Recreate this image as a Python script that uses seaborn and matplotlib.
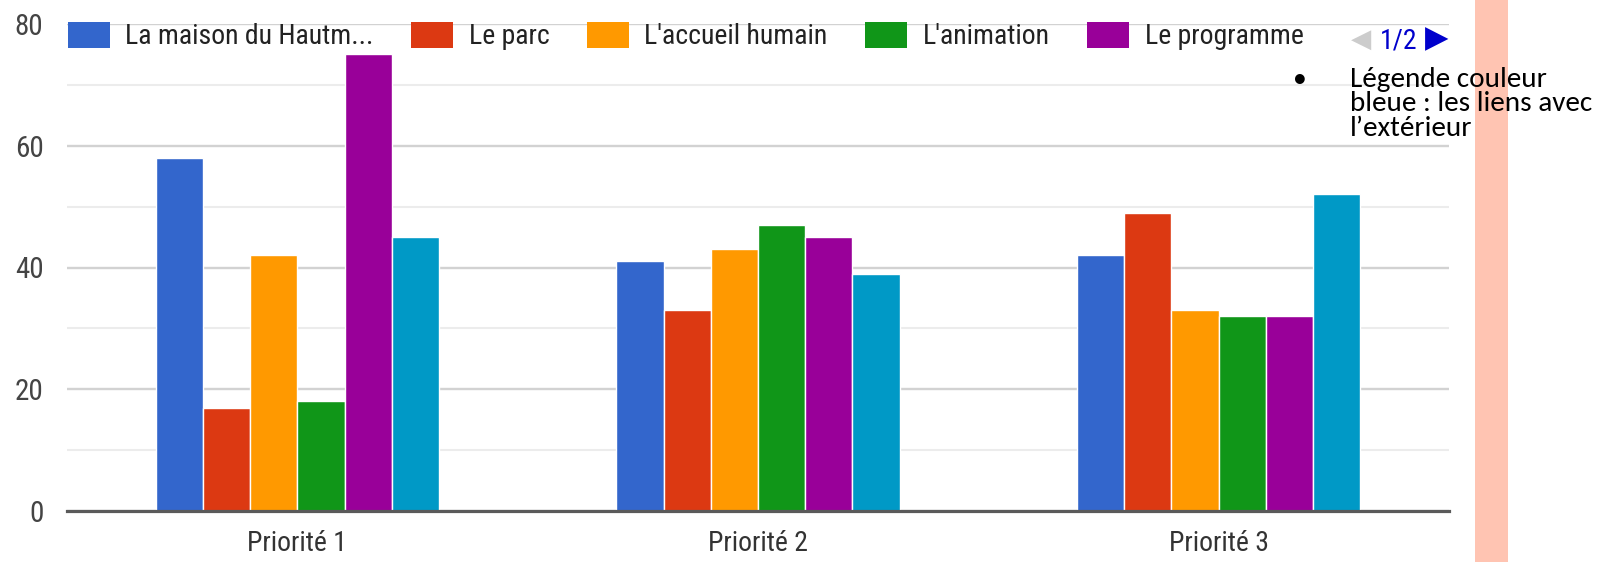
import matplotlib
matplotlib.use("Agg")
import matplotlib.pyplot as plt
from matplotlib.patches import Patch, Rectangle
from matplotlib.ticker import MultipleLocator
import seaborn as sns
import pandas as pd
import logging
logging.getLogger("matplotlib.font_manager").setLevel(logging.ERROR)

# ---- data ----
categories = ["Priorité 1", "Priorité 2", "Priorité 3"]
series = ["La maison du Hautm...", "Le parc", "L'accueil humain",
          "L'animation", "Le programme", "Les liens avec l'extérieur"]
maison = [58, 41, 42]
parc = [17, 33, 49]
accueil = [42, 43, 33]
animation = [18, 47, 32]
programme = [75, 45, 32]
liens = [45, 39, 52]
colors = ["#3366CC", "#DC3912", "#FF9900", "#109618", "#990099", "#0099C6"]
yticks = [0, 20, 40, 60, 80]
legend_labels = series[:5]
pager_text = "1/2"
note_text = "Légende couleur\nbleue : les liens avec\nl’extérieur"

values = [maison, parc, accueil, animation, programme, liens]
rows = []
for s, vals in zip(series, values):
    for c, v in zip(categories, vals):
        rows.append({"cat": c, "serie": s, "val": v})
df = pd.DataFrame(rows)

sns.set_theme(style="white")
narrow = ["Liberation Sans Narrow", "Arial Narrow", "Roboto Condensed",
          "Archivo Narrow", "PT Sans Narrow", "Liberation Sans", "DejaVu Sans"]
note_fonts = ["Carlito", "Calibri", "Lato", "DejaVu Sans"]
plt.rcParams["font.family"] = narrow

W, H = 1604, 562
fig = plt.figure(figsize=(W / 100, H / 100), dpi=100)
fig.patch.set_facecolor("white")

fig.patches.append(Rectangle((1475 / W, 0), 33 / W, 1, transform=fig.transFigure,
                             facecolor="#FFC4B2", edgecolor="none", zorder=0))

left, right, top, bottom = 67, 1449, 24, 511
ax = fig.add_axes([left / W, (H - bottom) / H, (right - left) / W, (bottom - top) / H])
ax.set_facecolor("none")

sns.barplot(data=df, x="cat", y="val", hue="serie", hue_order=series,
            order=categories, palette=colors, width=0.615, gap=0.0,
            edgecolor="white", linewidth=1.0, legend=False, ax=ax, saturation=1)

ax.set_xlim(-0.5, 2.5)
ax.set_ylim(0, 80)
ax.set_yticks(yticks)
ax.yaxis.set_minor_locator(MultipleLocator(10))
ax.set_axisbelow(True)
ax.grid(which="major", axis="y", color="#d2d2d2", lw=1.7)
ax.grid(which="minor", axis="y", color="#ececec", lw=1.5)
ax.grid(which="major", axis="x", visible=False)
for sp in ["left", "right", "top"]:
    ax.spines[sp].set_visible(False)
ax.spines["bottom"].set_color("#5a5a5a")
ax.spines["bottom"].set_linewidth(2.3)
ax.tick_params(axis="both", which="both", length=0)
ax.tick_params(axis="y", pad=17, labelsize=21, labelcolor="#444444")
ax.tick_params(axis="x", pad=14, labelsize=20, labelcolor="#333333")
ax.set_xlabel("")
ax.set_ylabel("")

handles = [Patch(facecolor=c, edgecolor="none") for c in colors[:5]]
fig.legend(handles, legend_labels, ncol=5, loc="upper left",
           bbox_to_anchor=(68 / W, 1 - 22 / H), frameon=False,
           fontsize=20, handlelength=1.5, handleheight=1.04,
           handletextpad=0.56, columnspacing=1.36, borderpad=0,
           borderaxespad=0, labelcolor="#222222")

fig.text(1361 / W, 1 - 40 / H, "◀", color="#cccccc", fontsize=19,
         ha="center", va="center", family="DejaVu Sans")
fig.text(1399 / W, 1 - 41 / H, pager_text, color="#0000cc", fontsize=20,
         ha="center", va="center")
fig.text(1437 / W, 1 - 39 / H, "▶", color="#0000cc", fontsize=22,
         ha="center", va="center", family="DejaVu Sans")

fig.text(1300 / W, 1 - 80 / H, "•", color="black", fontsize=20,
         ha="center", va="center", family=note_fonts, zorder=5)
fig.text(1350 / W, 1 - 67 / H, note_text, color="black", fontsize=21,
         ha="left", va="top", family=note_fonts, linespacing=0.97, zorder=5)

fig.savefig("out.png", dpi=100)
